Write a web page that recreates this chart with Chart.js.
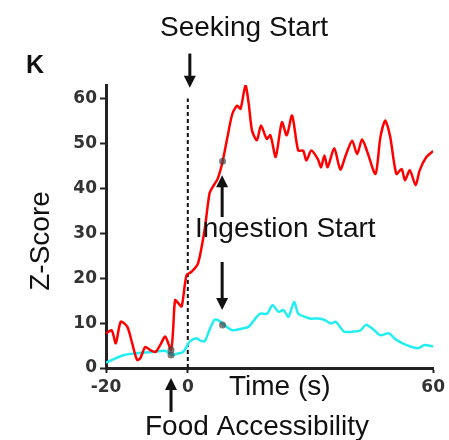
<!DOCTYPE html>
<html>
<head>
<meta charset="utf-8">
<script src="https://cdn.jsdelivr.net/npm/chart.js@4"></script>
<style>
  html, body { margin: 0; padding: 0; background: #fff; }
  #wrap { width: 449px; height: 440px; }
</style>
</head>
<body>
<div id="wrap"><canvas id="chart" width="449" height="440"></canvas></div>
<script>
// time (s) and z-score samples
const redTime = [-20, -18.6, -17.6, -16.4, -14.8, -13.6, -12.4, -11.6, -10.4, -9.2, -7.9, -6.7, -5.5, -4.1, -3.6, -3.1, -2.3, -1.5, -0.3, 0.9, 2.5, 4.1, 5.3, 6.1, 7.3, 8.5, 9.7, 10.9, 12.1, 12.9, 14.1, 14.9, 15.7, 16.9, 17.9, 19.3, 20.2, 21.5, 23, 24.2, 25.5, 27, 28.2, 29, 30.2, 31.8, 32.6, 33.4, 34.2, 35.8, 37.3, 38.6, 40.2, 41.4, 42.6, 43.9, 45.9, 47.1, 48.3, 49.5, 51, 52.3, 53.1, 54.3, 55.7, 56.7, 58.3, 60];
const redZ = [7.7, 8.4, 5.5, 10.3, 9.2, 5.5, 1.8, 2.2, 4.7, 4.0, 3.6, 5.2, 7.0, 4.0, 8.4, 15.1, 14.4, 13.7, 20.7, 21.4, 23.3, 30.7, 38.8, 40.3, 42.1, 45.9, 51.4, 56.6, 58.4, 57.7, 62.9, 58.8, 52.9, 50.7, 54, 51.0, 51.8, 47, 54.7, 51.8, 56.2, 48.4, 48.4, 46.2, 48.4, 46.5, 44.7, 47.3, 44.7, 48.9, 44.2, 47.3, 50.6, 47.6, 50.9, 48.1, 43.2, 51.4, 55.1, 51.4, 43.2, 44.3, 41.8, 44.0, 40.7, 44.0, 46.9, 48.3];

const cyanTime = [-20, -15.6, -12.4, -8.3, -5.5, -3.9, -2.5, -1.1, 0.5, 2.1, 2.9, 4.1, 5.3, 6.5, 7.3, 8.9, 10.9, 13.3, 14.9, 16.5, 17.7, 19.4, 20.7, 22.2, 23.4, 24.6, 26, 27, 28.6, 29.8, 31.8, 33.4, 35, 36.2, 38.2, 40.6, 42.3, 43.5, 45.1, 47.1, 49.1, 51.1, 53.5, 56.3, 57.9, 60];
const cyanZ = [1.2, 2.9, 3.3, 3.6, 3.8, 2.9, 3.2, 3.6, 5.9, 6.6, 6.2, 5.9, 8.5, 10.7, 10.7, 9.6, 8.4, 8.8, 9.2, 11.0, 12.1, 12.1, 14, 12.5, 12.9, 11.4, 14.7, 12.1, 11.4, 11, 11, 10.7, 9.9, 10.3, 8.1, 8.1, 8.4, 9.6, 8.8, 7.3, 7.7, 6.2, 5.1, 4.4, 5.1, 4.8];

// event markers (food accessibility, ingestion start)
const markerTime = [-4.1, -4.1, 8.5, 8.5];
const markerZ = [4.0, 2.9, 46, 9.6];

// seeking start line
const seekTime = [0, 0];
const seekZ = [0, 60];

const xTicks = [-20, 0, 60];
const yTicks = [0, 10, 20, 30, 40, 50, 60];

const FONT = "'Liberation Sans', Arial, sans-serif";
const TICK_FONT = "'DejaVu Sans', sans-serif";
const pts = (xs, ys) => xs.map((x, i) => ({ x: x, y: ys[i] }));

function arrow(ctx, x, yFrom, yTo) {
    const dir = yTo > yFrom ? 1 : -1;
    const head = 12;
    ctx.beginPath();
    ctx.moveTo(x, yFrom);
    ctx.lineTo(x, yTo - dir * head * 0.8);
    ctx.stroke();
    ctx.beginPath();
    ctx.moveTo(x, yTo);
    ctx.lineTo(x - 6, yTo - dir * head);
    ctx.lineTo(x + 6, yTo - dir * head);
    ctx.closePath();
    ctx.fill();
}

const notes = {
    id: "notes",
    afterDraw(chart) {
        const ctx = chart.ctx;
        const xs = chart.scales.x, ys = chart.scales.y;
        ctx.save();
        ctx.fillStyle = "#111";
        ctx.strokeStyle = "#111";
        ctx.lineWidth = 3;

        // arrows, placed by data position
        arrow(ctx, xs.getPixelForValue(0.5), ys.getPixelForValue(70), ys.getPixelForValue(62.4));
        arrow(ctx, xs.getPixelForValue(-4.1), ys.getPixelForValue(-9.8), ys.getPixelForValue(-2.2));
        arrow(ctx, xs.getPixelForValue(8.4), ys.getPixelForValue(33.6), ys.getPixelForValue(42.9));
        arrow(ctx, xs.getPixelForValue(8.4), ys.getPixelForValue(23.6), ys.getPixelForValue(12.9));

        ctx.textBaseline = "alphabetic";
        ctx.font = "bold 25px " + FONT;
        ctx.textAlign = "left";
        ctx.fillText("K", 26, 73);

        ctx.font = "28px " + FONT;
        ctx.textAlign = "center";
        ctx.fillText("Seeking Start", 244, 36);
        ctx.textAlign = "left";
        ctx.fillText("Ingestion Start", 195, 237);
        ctx.fillText("Time (s)", 229, 395);
        ctx.fillText("Food Accessibility", 145, 435);

        ctx.translate(41, 241);
        ctx.rotate(-Math.PI / 2);
        ctx.textAlign = "center";
        ctx.textBaseline = "middle";
        ctx.fillText("Z-Score", 0, 0);
        ctx.restore();
    }
};

new Chart(document.getElementById("chart"), {
    type: "line",
    data: {
        datasets: [
            {
                label: "red",
                data: pts(redTime, redZ),
                borderColor: "#ff0000",
                borderWidth: 2.5,
                pointRadius: 0,
                tension: 0.25,
                order: 2
            },
            {
                label: "cyan",
                data: pts(cyanTime, cyanZ),
                borderColor: "#22eef2",
                borderWidth: 2.5,
                pointRadius: 0,
                tension: 0.25,
                order: 3
            },
            {
                label: "seeking",
                data: pts(seekTime, seekZ),
                borderColor: "#111",
                borderWidth: 2,
                borderDash: [4, 3],
                pointRadius: 0,
                order: 4
            },
            {
                type: "scatter",
                label: "markers",
                data: pts(markerTime, markerZ),
                backgroundColor: "rgba(70,70,70,0.7)",
                borderWidth: 0,
                pointRadius: 3.5,
                order: 1
            }
        ]
    },
    options: {
        responsive: false,
        animation: false,
        layout: { padding: { left: 0, top: 85, right: 12, bottom: 42 } },
        plugins: { legend: { display: false }, tooltip: { enabled: false } },
        scales: {
            x: {
                type: "linear",
                min: -20,
                max: 60,
                afterBuildTicks: s => { s.ticks = xTicks.map(v => ({ value: v })); },
                afterFit: s => { s.height = 30; },
                grid: { drawOnChartArea: false, drawTicks: true, tickLength: 5, tickColor: "#222", tickWidth: 2 },
                border: { display: true, color: "#222", width: 3 },
                ticks: { color: "#333", padding: 4, maxRotation: 0, font: { family: TICK_FONT, size: 17, weight: "bold" } }
            },
            y: {
                type: "linear",
                min: 0,
                max: 63,
                afterBuildTicks: s => { s.ticks = yTicks.map(v => ({ value: v })); },
                afterFit: s => { s.width = 106; },
                grid: { drawOnChartArea: false, drawTicks: true, tickLength: 6, tickColor: "#222", tickWidth: 2 },
                border: { display: true, color: "#222", width: 3 },
                ticks: { color: "#333", padding: 3, font: { family: TICK_FONT, size: 17, weight: "bold" } }
            }
        }
    },
    plugins: [notes]
});
</script>
</body>
</html>
